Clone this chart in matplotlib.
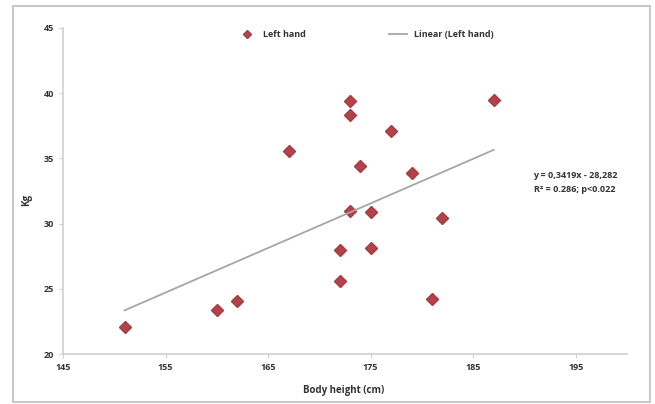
import numpy as np
import matplotlib.pyplot as plt
from matplotlib.patches import Rectangle

# body height (cm) vs left hand grip (kg)
height_cm = [151, 160, 162, 167, 173, 173, 177, 174, 179, 187, 173, 175, 182, 172, 175, 172, 181]
left_hand = [22.1, 23.4, 24.1, 35.6, 39.4, 38.3, 37.1, 34.4, 33.9, 39.5, 31.0, 30.9, 30.4, 28.0, 28.1, 25.6, 24.2]
slope, intercept = 0.3419, -28.282
x_ticks = [145, 155, 165, 175, 185, 195]
y_ticks = [20, 25, 30, 35, 40, 45]

plt.rcParams['font.family'] = ['Open Sans', 'DejaVu Sans']

fig = plt.figure(figsize=(6.55, 4.04), dpi=100)
ax = fig.add_axes([63 / 655, 1 - 354 / 404, 564 / 655, 326 / 404])

ax.plot(height_cm, left_hand, 'D', color='#B2434A', markersize=6.2,
        markeredgecolor='#A63A42', label='Left hand', linestyle='none')
xs = np.array([min(height_cm), max(height_cm)])
ax.plot(xs, slope * xs + intercept, color='#A6A6A6', lw=1.3, label='Linear (Left hand)')

ax.set_xlim(145, 200)
ax.set_ylim(20, 45)
ax.set_xticks(x_ticks)
ax.set_yticks(y_ticks)
for s in ['top', 'right']:
    ax.spines[s].set_visible(False)
for s in ['left', 'bottom']:
    ax.spines[s].set_color('#D0D0D0')
    ax.spines[s].set_linewidth(1.2)
ax.tick_params(colors='#D0D0D0', labelcolor='#333333', labelsize=6.5, length=3)
for lab in ax.get_xticklabels() + ax.get_yticklabels():
    lab.set_fontweight('bold')

leg = ax.legend(ncol=2, frameon=False, loc='center', bbox_to_anchor=(0.537, 0.98),
                fontsize=6.5, columnspacing=9.2, handlelength=2, markerscale=0.7)
for t in leg.get_texts():
    t.set_fontweight('bold')
    t.set_color('#333333')

fig.text(575 / 655, 1 - 176 / 404, 'y = 0,3419x - 28,282', fontsize=6.5, fontweight='bold',
         color='#333333', ha='center', va='center')
fig.text(575 / 655, 1 - 189 / 404, 'R² = 0.286; p<0.022', fontsize=6.5, fontweight='bold',
         color='#333333', ha='center', va='center')
fig.text(344 / 655, 1 - 390 / 404, 'Body height (cm)', fontsize=7, fontweight='bold',
         color='#333333', ha='center', va='center')
fig.text(27 / 655, 1 - 200 / 404, 'Kg', fontsize=7, fontweight='bold', rotation=90,
         color='#333333', ha='center', va='center')

fig.patches.append(Rectangle((13 / 655, 2 / 404), 637 / 655, 396 / 404, transform=fig.transFigure,
                             fill=False, edgecolor='#C8C8C8', lw=1.5))

fig.savefig('out.png', dpi=100)
